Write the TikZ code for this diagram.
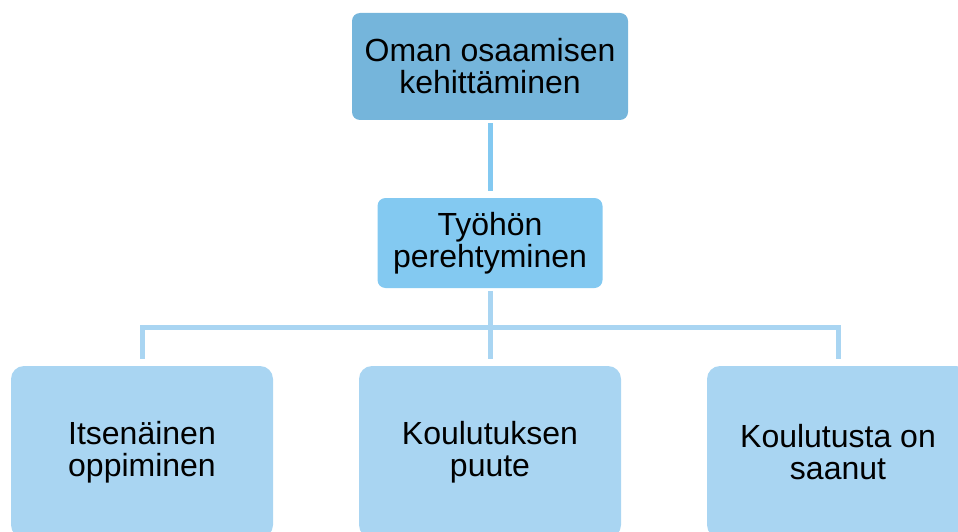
\documentclass[tikz,border=0pt]{standalone}
\usepackage{fontspec}
\setmainfont{Liberation Sans}
\usepackage{xcolor}
\usepackage{tikz}
\usetikzlibrary{calc}
\definecolor{topblue}{HTML}{75B5DB}
\definecolor{midblue}{HTML}{83C9F1}
\definecolor{lowblue}{HTML}{A9D5F2}
\tikzset{
  box/.style={fill=#1, rounded corners=8pt, align=center, inner sep=0pt,
    font=\fontsize{32}{32}\selectfont},
  link/.style={line width=5pt, draw=#1, shorten <=3pt, shorten >=7pt},
}

\begin{document}
\begin{tikzpicture}[x=1pt,y=-1pt]

		\clip (0,0) rectangle (958,532);

		% The two boxes at the top
		\node [box=topblue, minimum width=276pt, minimum height=107pt] (oman) at (490,66.5) {Oman osaamisen\\kehittäminen};
		\node [box=midblue, minimum width=225pt, minimum height=90pt] (tyo) at (490,243) {Työhön\\perehtyminen};

		% The bottom row, cut off by the page edge
		\foreach \x/\name/\lab in {
		  142/itse/{Itsenäinen\\oppiminen},
		  490/puute/{Koulutuksen\\puute},
		  838/saanut/{Koulutusta on\\saanut}} {
		  \node [box=lowblue, rounded corners=13pt, minimum width=262pt, minimum height=172pt] (\name) at (\x,452) {\lab};
		}

		% Connectors
		\draw [link=midblue] (oman) -- (tyo);
		\coordinate (bus) at (490,327);
		\foreach \name in {itse,puute,saanut} {
		  \draw [link=lowblue] (tyo.south) -- (tyo.south |- bus) -| (\name.north);
		}
	\end{tikzpicture}
\end{document}
